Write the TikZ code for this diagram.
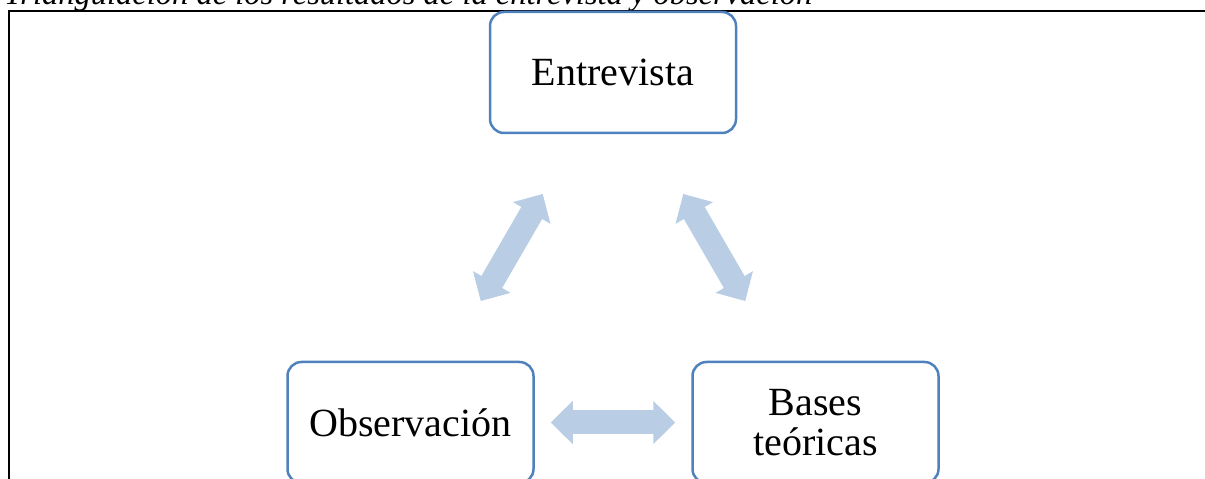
\documentclass[tikz,border=0pt]{standalone}
\usepackage{fontspec}
\setmainfont{Liberation Serif}
\usetikzlibrary{arrows.meta, calc}
\definecolor{boxblue}{RGB}{79,129,189}
\definecolor{arrowblue}{RGB}{185,205,229}
\tikzset{
    my-box/.style={
        draw=boxblue, line width=2.5pt, rounded corners=14pt, fill=white,
        minimum width=246pt, minimum height=121pt, align=center,
        font=\fontsize{40}{40}\selectfont
    },
    my-link/.style={
        draw=arrowblue, line width=24pt,
        {Triangle[length=22pt, width=42pt]}-{Triangle[length=22pt, width=42pt]}
    },
}

\begin{document}
\begin{tikzpicture}[x=1pt, y=1pt]

        % PAGE SIZE
        \useasboundingbox (0, 0) rectangle (1205, 479);
        \clip (0, 0) rectangle (1205, 479);

        % TITLE AND FRAME
        \node[anchor=base west, inner sep=0pt] (TITLE) at (4, 474)
            {\fontsize{32.5}{32.5}\selectfont\itshape Triangulación de los resultados de la entrevista y observación};
        \draw[line width=1.6pt] (9, -5) -- (9, 468) -- (1210, 468);

        % BOXES
        \node[my-box] (ENT)   at (613, 406.5)                    {Entrevista};
        \node[my-box] (OBS)   at ($(ENT) + (-202.5, -350)$)      {Observación};
        \node[my-box] (BASES) at ($(ENT) + (202.5, -350)$)       {Bases\\teóricas};

        % DOUBLE ARROWS
        \draw[my-link, shorten <=69pt, shorten >=69pt] (ENT) -- (OBS);
        \draw[my-link, shorten <=69pt, shorten >=69pt] (ENT) -- (BASES);
        \draw[my-link, shorten <=16pt, shorten >=16pt] (OBS) -- (BASES);

    \end{tikzpicture}
\end{document}
